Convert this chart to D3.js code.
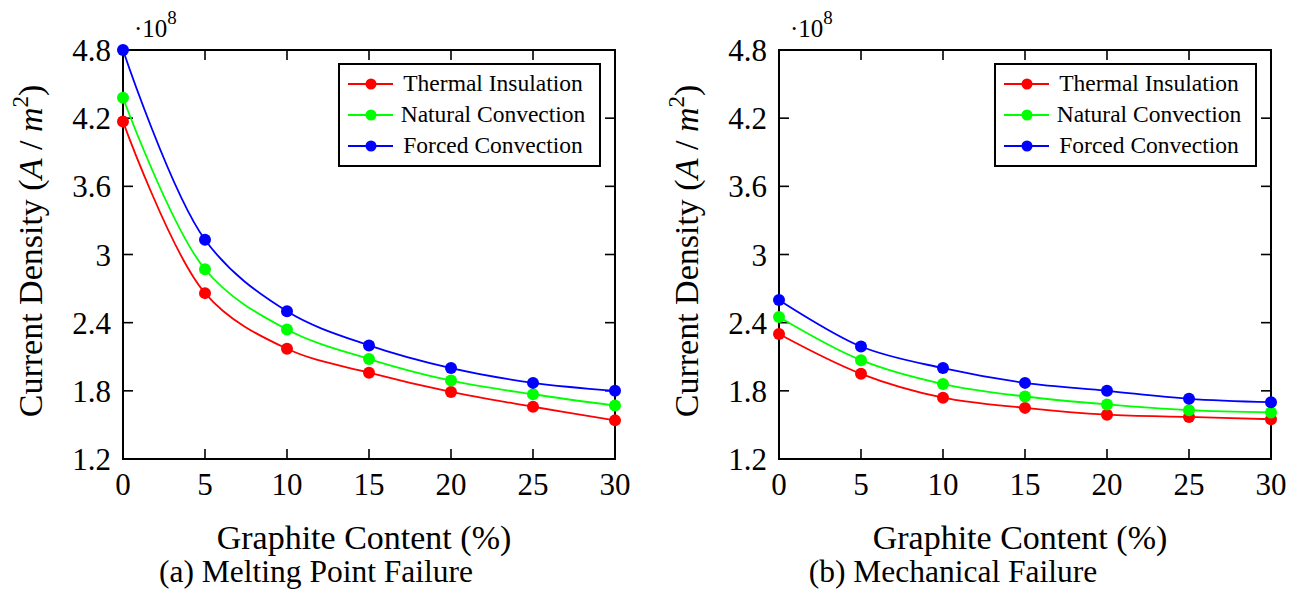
<!DOCTYPE html>
<html>
<head>
<meta charset="utf-8">
<script src="https://cdn.jsdelivr.net/npm/d3@7"></script>
<style>
  body { margin: 0; background: #fff; }
</style>
</head>
<body>
<script>
// Current density vs graphite content, two failure criteria
const width = 1300, height = 595;
const FONT = "Liberation Serif";

const graphite = [0, 5, 10, 15, 20, 25, 30];
const seriesNames = ["Thermal Insulation", "Natural Convection", "Forced Convection"];
const seriesColors = ["#ff0000", "#00ff00", "#0000ff"];

// (a) melting point failure, values x 1e8 A/m^2
const meltThermal = [4.17, 2.66, 2.17, 1.96, 1.79, 1.66, 1.54];
const meltNatural = [4.38, 2.87, 2.34, 2.08, 1.89, 1.77, 1.67];
const meltForced  = [4.80, 3.13, 2.50, 2.20, 2.00, 1.87, 1.80];

// (b) mechanical failure
const mechThermal = [2.30, 1.95, 1.74, 1.65, 1.59, 1.57, 1.55];
const mechNatural = [2.45, 2.07, 1.86, 1.75, 1.68, 1.63, 1.61];
const mechForced  = [2.60, 2.19, 2.00, 1.87, 1.80, 1.73, 1.70];

const xTicks = [0, 5, 10, 15, 20, 25, 30];
const yTicks = [1.2, 1.8, 2.4, 3, 3.6, 4.2, 4.8];
const captions = ["(a) Melting Point Failure", "(b) Mechanical Failure"];

const svg = d3.select("body").append("svg")
    .attr("width", width)
    .attr("height", height);

const panels = [
    { left: 123, captionX: 316, series: [meltThermal, meltNatural, meltForced], caption: captions[0] },
    { left: 779, captionX: 953, series: [mechThermal, mechNatural, mechForced], caption: captions[1] }
];

const plotW = 492, plotTop = 50, plotBottom = 459;
const tickLen = 10;

panels.forEach(p => {
    const x = d3.scaleLinear().domain([0, 30]).range([p.left, p.left + plotW]);
    const y = d3.scaleLinear().domain([1.2, 4.8]).range([plotBottom, plotTop]);
    const g = svg.append("g");

    // inward ticks on all four sides
    const ticks = g.append("g").attr("stroke", "#000").attr("stroke-width", 1.6);
    xTicks.slice(1, -1).forEach(t => {
        ticks.append("line").attr("x1", x(t)).attr("x2", x(t)).attr("y1", plotBottom).attr("y2", plotBottom - tickLen);
        ticks.append("line").attr("x1", x(t)).attr("x2", x(t)).attr("y1", plotTop).attr("y2", plotTop + tickLen);
    });
    yTicks.slice(1, -1).forEach(t => {
        ticks.append("line").attr("x1", x(0)).attr("x2", x(0) + tickLen).attr("y1", y(t)).attr("y2", y(t));
        ticks.append("line").attr("x1", x(30)).attr("x2", x(30) - tickLen).attr("y1", y(t)).attr("y2", y(t));
    });

    // frame
    g.append("rect")
        .attr("x", x(0)).attr("y", y(4.8))
        .attr("width", x(30) - x(0)).attr("height", y(1.2) - y(4.8))
        .attr("fill", "none").attr("stroke", "#000").attr("stroke-width", 2);

    // tick labels
    g.append("g").selectAll("text").data(xTicks).join("text")
        .attr("x", d => x(d)).attr("y", 495)
        .attr("text-anchor", "middle").attr("font-family", FONT).attr("font-size", 31)
        .text(d => d);
    g.append("g").selectAll("text").data(yTicks).join("text")
        .attr("x", x(0) - 12).attr("y", d => y(d) + 11)
        .attr("text-anchor", "end").attr("font-family", FONT).attr("font-size", 31)
        .text(d => d);

    // scale factor
    const sf = g.append("text").attr("x", x(0) + 11).attr("y", 37)
        .attr("font-family", FONT).attr("font-size", 25);
    sf.append("tspan").text("\u00b710");
    sf.append("tspan").attr("font-size", 19).attr("dy", -13).text("8");

    // axis titles
    g.append("text")
        .attr("x", (x(0) + x(30)) / 2 - 5).attr("y", 549)
        .attr("text-anchor", "middle").attr("font-family", FONT).attr("font-size", 34)
        .text("Graphite Content (%)");

    const yt = g.append("text")
        .attr("transform", `translate(${x(0) - 81},251) rotate(-90)`)
        .attr("text-anchor", "middle").attr("font-family", FONT).attr("font-size", 34);
    yt.append("tspan").text("Current Density (");
    yt.append("tspan").attr("font-style", "italic").text("A");
    yt.append("tspan").text(" / ");
    yt.append("tspan").attr("font-style", "italic").text("m");
    yt.append("tspan").attr("font-size", 23).attr("dy", -14).text("2");
    yt.append("tspan").attr("dy", 14).text(")");

    // caption
    g.append("text")
        .attr("x", p.captionX).attr("y", 582)
        .attr("text-anchor", "middle").attr("font-family", FONT).attr("font-size", 31.5)
        .text(p.caption);

    // series
    const line = d3.line()
        .x((d, i) => x(graphite[i]))
        .y(d => y(d))
        .curve(d3.curveCatmullRom.alpha(0.5));

    p.series.forEach((vals, si) => {
        g.append("path")
            .attr("d", line(vals))
            .attr("fill", "none")
            .attr("stroke", seriesColors[si])
            .attr("stroke-width", 1.8);
        g.append("g").selectAll("circle").data(vals).join("circle")
            .attr("cx", (d, i) => x(graphite[i]))
            .attr("cy", d => y(d))
            .attr("r", 6)
            .attr("fill", seriesColors[si]);
    });

    // legend
    const lx = x(30) - 15 - 261, ly = 64;
    const lg = g.append("g");
    lg.append("rect")
        .attr("x", lx).attr("y", ly).attr("width", 261).attr("height", 102)
        .attr("fill", "#fff").attr("stroke", "#000").attr("stroke-width", 2);
    seriesNames.forEach((name, si) => {
        const cy = ly + 20 + si * 31;
        lg.append("line")
            .attr("x1", lx + 9).attr("x2", lx + 54).attr("y1", cy).attr("y2", cy)
            .attr("stroke", seriesColors[si]).attr("stroke-width", 1.8);
        lg.append("circle")
            .attr("cx", lx + 32).attr("cy", cy).attr("r", 5.5)
            .attr("fill", seriesColors[si]);
        lg.append("text")
            .attr("x", lx + 154).attr("y", cy + 7)
            .attr("text-anchor", "middle").attr("font-family", FONT).attr("font-size", 23.5)
            .text(name);
    });
});
</script>
</body>
</html>
